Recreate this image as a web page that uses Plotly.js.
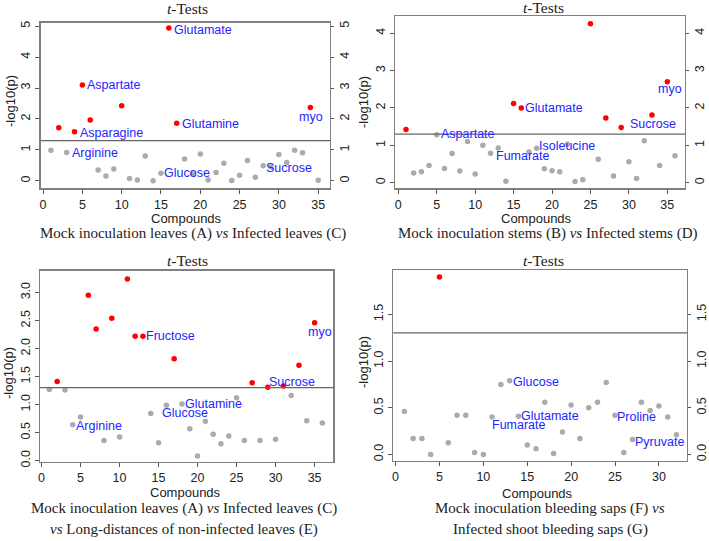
<!DOCTYPE html>
<html><head><meta charset="utf-8">
<script src="https://cdn.plot.ly/plotly-3.0.1.min.js"></script>
<style>html,body{margin:0;padding:0;background:#fff}#chart{width:709px;height:541px}</style>
</head><body><div id="chart"></div>
<script>
// significance threshold: -log10(0.05)
const threshold = 1.301;

// Panel 1: Mock inoculation leaves (A) vs Infected leaves (C)
const p1Compounds = [1,2,3,4,5,6,7,8,9,10,11,12,13,14,15,16,17,18,19,20,21,22,23,24,25,26,27,28,29,30,31,32,33,34,35];
const p1Values = [0.99,1.72,0.92,1.59,3.10,1.97,0.35,0.16,0.38,2.43,0.08,0.03,0.80,0.00,0.25,4.94,1.86,0.71,0.23,0.87,0.03,0.27,0.57,0.01,0.18,0.66,0.12,0.49,0.45,0.85,0.59,0.99,0.91,2.37,0.02];
const p1Labels = ["Glutamate","Aspartate","Asparagine","Glutamine","myo","Arginine","Glucose","Sucrose"];
const p1LabelX = [20.3,8.97,8.76,21.24,34.1,6.56,18.37,31.3];
const p1LabelY = [4.87,3.10,1.54,1.84,2.05,0.91,0.25,0.43];

// Panel 2: Mock inoculation stems (B) vs Infected stems (D)
const p2Compounds = [1,2,3,4,5,6,7,8,9,10,11,12,13,14,15,16,17,18,19,20,21,22,23,24,25,26,27,28,29,30,31,32,33,34,35,36];
const p2Values = [1.42,0.26,0.29,0.46,1.28,0.38,0.78,0.31,1.10,0.23,1.00,0.79,0.93,0.04,2.12,2.00,0.82,0.92,0.37,0.32,0.29,1.03,0.03,0.08,4.25,0.63,1.73,0.18,1.48,0.56,0.11,1.12,1.81,0.46,2.70,0.72];
const p2Labels = ["Aspartate","Glutamate","Isoleucine","Fumarate","Sucrose","myo"];
const p2LabelX = [9.06,20.2,21.9,16.2,33.2,35.4];
const p2LabelY = [1.29,2.00,0.99,0.72,1.57,2.51];

// Panel 3: Mock leaves (A) vs Infected leaves (C) vs Long-distance non-infected leaves (E)
const p3Compounds = [1,2,3,4,5,6,7,8,9,10,11,12,13,14,15,16,17,18,19,20,21,22,23,24,25,26,27,28,29,30,31,32,33,34,35,36];
const p3Values = [1.27,1.41,1.26,0.64,0.78,2.95,2.35,0.36,2.54,0.42,3.24,2.22,2.22,0.84,0.32,0.99,1.82,1.01,0.57,0.08,0.70,0.47,0.30,0.44,1.12,0.36,1.39,0.36,1.31,0.38,1.33,1.16,1.70,0.71,2.46,0.67];
const p3Labels = ["Fructose","Sucrose","Glutamine","Glucose","Arginine","myo"];
const p3LabelX = [16.5,32.05,22.0,18.4,7.4,35.7];
const p3LabelY = [2.22,1.41,1.01,0.85,0.62,2.30];

// Panel 4: Mock inoculation bleeding saps (F) vs Infected shoot bleeding saps (G)
const p4Compounds = [1,2,3,4,5,6,7,8,9,10,11,12,13,14,15,16,17,18,19,20,21,22,23,24,25,26,27,28,29,30,31,32];
const p4Values = [0.46,0.17,0.17,0.00,1.90,0.125,0.42,0.42,0.02,0.00,0.40,0.75,0.79,0.41,0.10,0.06,0.56,0.01,0.24,0.53,0.17,0.50,0.56,0.77,0.42,0.02,0.16,0.56,0.47,0.52,0.40,0.21];
const p4Labels = ["Glucose","Glutamate","Fumarate","Proline","Pyruvate"];
const p4LabelX = [16.04,17.6,14.1,27.5,30.1];
const p4LabelY = [0.78,0.41,0.32,0.40,0.13];

const panelTitle = "<i>t</i>-Tests";
const xTitle = "Compounds";
const yTitle = "-log10(p)";
const p1Caption = ["Mock inoculation leaves (A) <i>vs</i> Infected leaves (C)"];
const p2Caption = ["Mock inoculation stems (B) <i>vs</i> Infected stems (D)"];
const p3Caption = ["Mock inoculation leaves (A) <i>vs</i> Infected leaves (C)", "<i>vs</i> Long-distances of non-infected leaves (E)"];
const p4Caption = ["Mock inoculation bleeding saps (F) <i>vs</i>", "Infected shoot bleeding saps (G)"];

// ---------- layout helpers ----------
const W = 709, H = 541;
const SANS = "Liberation Sans, Arial, sans-serif";
const SERIF = "Liberation Serif, Times New Roman, serif";
const BLUE = "#2424ff";

const panels = [
  {c:p1Compounds, v:p1Values, lab:p1Labels, lx:p1LabelX, ly:p1LabelY, cap:p1Caption,
   box:[40.7,330,22.7,188.3], xr:[-0.3,36.5], yr:[-0.24,5.11], dt:1, fmt:"d", right:true,
   title:[188,9], xt:[186.5,218.5], yt:[10,101], capY:[233.7], capX:192.5},
  {c:p2Compounds, v:p2Values, lab:p2Labels, lx:p2LabelX, ly:p2LabelY, cap:p2Caption,
   box:[395,685,16,188.3], xr:[-0.43,37.3], yr:[-0.15,4.46], dt:1, fmt:"d", right:true,
   title:[543,8], xt:[536.7,218], yt:[363.3,101.7], capY:[233.7], capX:547.5},
  {c:p3Compounds, v:p3Values, lab:p3Labels, lx:p3LabelX, ly:p3LabelY, cap:p3Caption,
   box:[40,333.3,270.7,461.7], xr:[-0.2,37.4], yr:[-0.02,3.39], dt:0.5, fmt:".1f", right:false,
   title:[188,260], xt:[185.7,492], yt:[8,373], capY:[508.3,529.3], capX:183.8},
  {c:p4Compounds, v:p4Values, lab:p4Labels, lx:p4LabelX, ly:p4LabelY, cap:p4Caption,
   box:[393.3,687,270,461], xr:[-0.26,33.2], yr:[-0.07,1.975], dt:0.5, fmt:".1f", right:true,
   title:[543,260], xt:[537.3,493], yt:[363.3,361.7], capY:[508.3,529], capX:550}
];

const data = [];
const layout = {
  width: W, height: H,
  margin: {l:0, r:0, t:0, b:0},
  paper_bgcolor: "#fff", plot_bgcolor: "#fff",
  showlegend: false,
  annotations: [], shapes: []
};
const tickFont = {family: SANS, size: 12.5, color: "#222"};
let rightIdx = 5;

panels.forEach((p, i) => {
  const n = i + 1;
  const xa = "x" + (n === 1 ? "" : n), ya = "y" + (n === 1 ? "" : n);
  const xk = "xaxis" + (n === 1 ? "" : n), yk = "yaxis" + (n === 1 ? "" : n);
  const [l, r, t, b] = p.box;
  const sig = p.c.map((c, k) => p.v[k] > threshold);
  data.push({type:"scatter", mode:"markers", xaxis:xa, yaxis:ya,
    x: p.c.filter((c,k)=>!sig[k]), y: p.v.filter((v,k)=>!sig[k]),
    marker:{color:"#ababab", size:5.5}, hoverinfo:"x+y"});
  data.push({type:"scatter", mode:"markers", xaxis:xa, yaxis:ya,
    x: p.c.filter((c,k)=>sig[k]), y: p.v.filter((v,k)=>sig[k]),
    marker:{color:"#ff0000", size:5.5}, hoverinfo:"x+y"});

  layout[xk] = {domain:[l/W, r/W], anchor:ya, range:p.xr, dtick:5, tick0:0,
    showgrid:false, zeroline:false, showline:true, mirror:true, linecolor:"#808080", linewidth:1.3,
    ticks:"outside", ticklen:4, tickwidth:1, tickcolor:"#555", tickfont:tickFont};
  layout[yk] = {domain:[1-b/H, 1-t/H], anchor:xa, range:p.yr, dtick:p.dt, tick0:0, tickformat:p.fmt,
    showgrid:false, zeroline:false, showline:true, mirror:true, linecolor:"#808080", linewidth:1.3,
    ticks:"outside", ticklen:4, tickwidth:1, tickcolor:"#555", tickfont:tickFont, tickangle:-90};

  if (p.right) {
    const rk = "yaxis" + rightIdx, ra = "y" + rightIdx;
    layout[rk] = {overlaying:ya, anchor:xa, side:"right", range:p.yr, dtick:p.dt, tick0:0, tickformat:p.fmt,
      showgrid:false, zeroline:false, showline:false,
      ticks:"outside", ticklen:3, tickwidth:1, tickcolor:"#555", tickfont:tickFont, tickangle:-90};
    data.push({type:"scatter", mode:"markers", xaxis:xa, yaxis:ra, x:[p.c[0]], y:[p.v[0]],
      marker:{opacity:0}, hoverinfo:"skip"});
    rightIdx++;
  }

  layout.shapes.push({type:"line", xref:xa + " domain", yref:ya, x0:0, x1:1, y0:threshold, y1:threshold,
    line:{color:"#666", width:1.3}});

  layout.annotations.push({xref:"paper", yref:"paper", x:p.title[0]/W, y:1-p.title[1]/H,
    xanchor:"center", yanchor:"middle", showarrow:false, text:panelTitle,
    font:{family:SERIF, size:15.5, color:"#222"}});
  layout.annotations.push({xref:"paper", yref:"paper", x:p.xt[0]/W, y:1-p.xt[1]/H,
    xanchor:"center", yanchor:"middle", showarrow:false, text:xTitle,
    font:{family:SANS, size:13, color:"#222"}});
  layout.annotations.push({xref:"paper", yref:"paper", x:p.yt[0]/W, y:1-p.yt[1]/H,
    xanchor:"center", yanchor:"middle", showarrow:false, text:yTitle, textangle:-90,
    font:{family:SANS, size:13, color:"#222"}});
  p.cap.forEach((txt, k) => {
    layout.annotations.push({xref:"paper", yref:"paper", x:p.capX/W, y:1-p.capY[k]/H,
      xanchor:"center", yanchor:"middle", showarrow:false, text:txt,
      font:{family:SERIF, size:15, color:"#222"}});
  });
  p.lab.forEach((txt, k) => {
    layout.annotations.push({xref:xa, yref:ya, x:p.lx[k], y:p.ly[k],
      xanchor:"center", yanchor:"middle", showarrow:false, text:txt,
      font:{family:SANS, size:12.5, color:BLUE}});
  });
});

Plotly.newPlot("chart", data, layout, {displayModeBar:false, staticPlot:true});
</script>
</body></html>
